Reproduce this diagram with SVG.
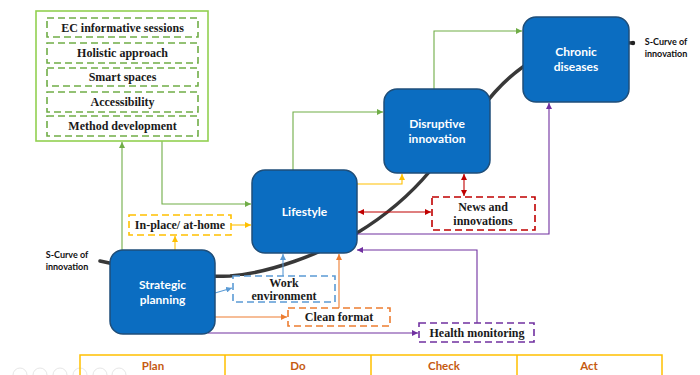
<svg xmlns="http://www.w3.org/2000/svg" width="700" height="375" viewBox="0 0 700 375">
<style>
.node rect{fill:#0B6DC1;stroke:#1F4E79;stroke-width:1.5}
.ntxt{font-family:Lato,"Open Sans",sans-serif;font-weight:bold;font-size:12px;fill:#fff;text-anchor:middle}
.btxt{font-family:"Liberation Serif","Times New Roman",serif;font-weight:bold;font-size:12px;fill:#1a1a1a;text-anchor:middle}
.stxt{font-family:Lato,"Open Sans",sans-serif;font-weight:bold;font-size:9px;fill:#111;text-anchor:middle}
.ptxt{font-family:Lato,"Open Sans",sans-serif;font-weight:bold;font-size:11.5px;fill:#C55A11;text-anchor:middle}
.dash{fill:#fff;stroke-width:1.6;stroke-dasharray:7 4}
.c{fill:none;stroke-width:1.1}
.g{stroke:#70AD47}.y{stroke:#FFC000}.r{stroke:#C00000}.p{stroke:#7030A0}.b{stroke:#5B9BD5}.o{stroke:#ED7D31}
</style>
<defs>
<marker id="ag" viewBox="0 0 10 10" refX="10" refY="5" markerWidth="6" markerHeight="6" markerUnits="userSpaceOnUse" orient="auto-start-reverse"><path d="M0,0L10,5L0,10z" fill="#70AD47"/></marker>
<marker id="ay" viewBox="0 0 10 10" refX="10" refY="5" markerWidth="6" markerHeight="6" markerUnits="userSpaceOnUse" orient="auto-start-reverse"><path d="M0,0L10,5L0,10z" fill="#FFC000"/></marker>
<marker id="ar" viewBox="0 0 10 10" refX="10" refY="5" markerWidth="6" markerHeight="6" markerUnits="userSpaceOnUse" orient="auto-start-reverse"><path d="M0,0L10,5L0,10z" fill="#C00000"/></marker>
<marker id="ap" viewBox="0 0 10 10" refX="10" refY="5" markerWidth="6" markerHeight="6" markerUnits="userSpaceOnUse" orient="auto-start-reverse"><path d="M0,0L10,5L0,10z" fill="#7030A0"/></marker>
<marker id="ab" viewBox="0 0 10 10" refX="10" refY="5" markerWidth="6" markerHeight="6" markerUnits="userSpaceOnUse" orient="auto-start-reverse"><path d="M0,0L10,5L0,10z" fill="#5B9BD5"/></marker>
<marker id="ao" viewBox="0 0 10 10" refX="10" refY="5" markerWidth="6" markerHeight="6" markerUnits="userSpaceOnUse" orient="auto-start-reverse"><path d="M0,0L10,5L0,10z" fill="#ED7D31"/></marker>
</defs>
<rect width="700" height="375" fill="#fff"/>

<g id="scurve">
<path d="M100,261 C140,270 190,278 230,276 C270,273 320,254 357,233 C385,216 410,195 430,171 C455,142 475,115 495,92 C515,70 540,52 570,46 C595,42 615,42 633,43" fill="none" stroke="#222" stroke-width="3.5" stroke-linecap="round" opacity="0.9"/>
<circle cx="633" cy="43" r="2.2" fill="#222"/>
<text class="stxt" x="666" y="45">S-Curve of</text>
<text class="stxt" x="666" y="57">innovation</text>
<text class="stxt" x="67" y="258">S-Curve of</text>
<text class="stxt" x="67" y="270">innovation</text>
</g>

<g id="connectors">
<path class="c g" d="M122,250V142" marker-end="url(#ag)"/>
<path class="c g" d="M162,141V204H251" marker-end="url(#ag)"/>
<path class="c g" d="M293,170V112H383" marker-end="url(#ag)"/>
<path class="c g" d="M434,89V31H522" marker-end="url(#ag)"/>
<path class="c y" d="M175,250V236" marker-end="url(#ay)"/>
<path class="c y" d="M231,225H251" marker-end="url(#ay)"/>
<path class="c y" d="M357,184H402V174" marker-end="url(#ay)"/>
<path class="c r" d="M358,212H431" marker-start="url(#ar)" marker-end="url(#ar)"/>
<path class="c r" d="M464,174V196" marker-start="url(#ar)" marker-end="url(#ar)"/>
<path class="c p" d="M208,333H418" marker-end="url(#ap)"/>
<path class="c p" d="M477,323V250H357" marker-end="url(#ap)"/>
<path class="c p" d="M357,234H549V103" marker-end="url(#ap)"/>
<path class="c b" d="M215,293L232,288" marker-end="url(#ab)"/>
<path class="c b" d="M283,276V254" marker-end="url(#ab)"/>
<path class="c o" d="M215,317H287" marker-end="url(#ao)"/>
<path class="c o" d="M339,308V254" marker-end="url(#ao)"/>
</g>

<g id="green-group">
<rect x="36" y="11" width="172" height="130" fill="#fff" stroke="#92D050" stroke-width="1.6"/>
<g class="dash g">
<rect x="47" y="18" width="151" height="19"/>
<rect x="47" y="43" width="151" height="20"/>
<rect x="47" y="68" width="151" height="18"/>
<rect x="47" y="92" width="151" height="20"/>
<rect x="47" y="116" width="151" height="20"/>
</g>
<text class="btxt" x="122.5" y="32">EC informative sessions</text>
<text class="btxt" x="122.5" y="57">Holistic approach</text>
<text class="btxt" x="122.5" y="81">Smart spaces</text>
<text class="btxt" x="122.5" y="106">Accessibility</text>
<text class="btxt" x="122.5" y="130">Method development</text>
</g>

<g id="strategic" class="node"><rect x="110" y="250" width="105" height="84" rx="13"/>
<text class="ntxt" x="162.5" y="289">Strategic</text><text class="ntxt" x="162.5" y="304">planning</text></g>
<g id="lifestyle" class="node"><rect x="252" y="170" width="105" height="83" rx="13"/>
<text class="ntxt" x="304.5" y="216">Lifestyle</text></g>
<g id="disruptive" class="node"><rect x="384" y="89" width="106" height="84" rx="13"/>
<text class="ntxt" x="437" y="128">Disruptive</text><text class="ntxt" x="437" y="143">innovation</text></g>
<g id="chronic" class="node"><rect x="523" y="17" width="106" height="85" rx="13"/>
<text class="ntxt" x="576" y="56">Chronic</text><text class="ntxt" x="576" y="71">diseases</text></g>

<g id="inplace"><rect class="dash y" x="129" y="215" width="102" height="20"/><text class="btxt" x="180" y="229">In-place/ at-home</text></g>
<g id="work"><rect class="dash b" x="233" y="276" width="102" height="26"/><text class="btxt" x="284" y="287">Work</text><text class="btxt" x="284" y="300">environment</text></g>
<g id="clean"><rect class="dash o" x="288" y="308" width="102" height="18"/><text class="btxt" x="339" y="321">Clean format</text></g>
<g id="news"><rect class="dash r" x="432" y="197" width="103" height="33"/><text class="btxt" x="483" y="211">News and</text><text class="btxt" x="483" y="225">innovations</text></g>
<g id="health"><rect class="dash p" x="419" y="323" width="115" height="19"/><text class="btxt" x="477" y="337">Health monitoring</text></g>

<g id="pdca">
<g fill="none" stroke="#bbb" stroke-width="0.8" opacity="0.45">
<circle cx="20" cy="375" r="7"/><circle cx="40" cy="375" r="7"/><circle cx="60" cy="375" r="7"/><circle cx="80" cy="375" r="7"/><circle cx="100" cy="375" r="7"/><circle cx="119" cy="375" r="7"/>
</g>
<rect x="80" y="355" width="582" height="24" fill="none" stroke="#FFC000" stroke-width="1.5"/>
<path d="M225,355V375M371,355V375M517,355V375" stroke="#FFC000" stroke-width="1.5"/>
<text class="ptxt" x="153" y="370">Plan</text>
<text class="ptxt" x="298" y="370">Do</text>
<text class="ptxt" x="444" y="370">Check</text>
<text class="ptxt" x="589" y="370">Act</text>
</g>
</svg>
